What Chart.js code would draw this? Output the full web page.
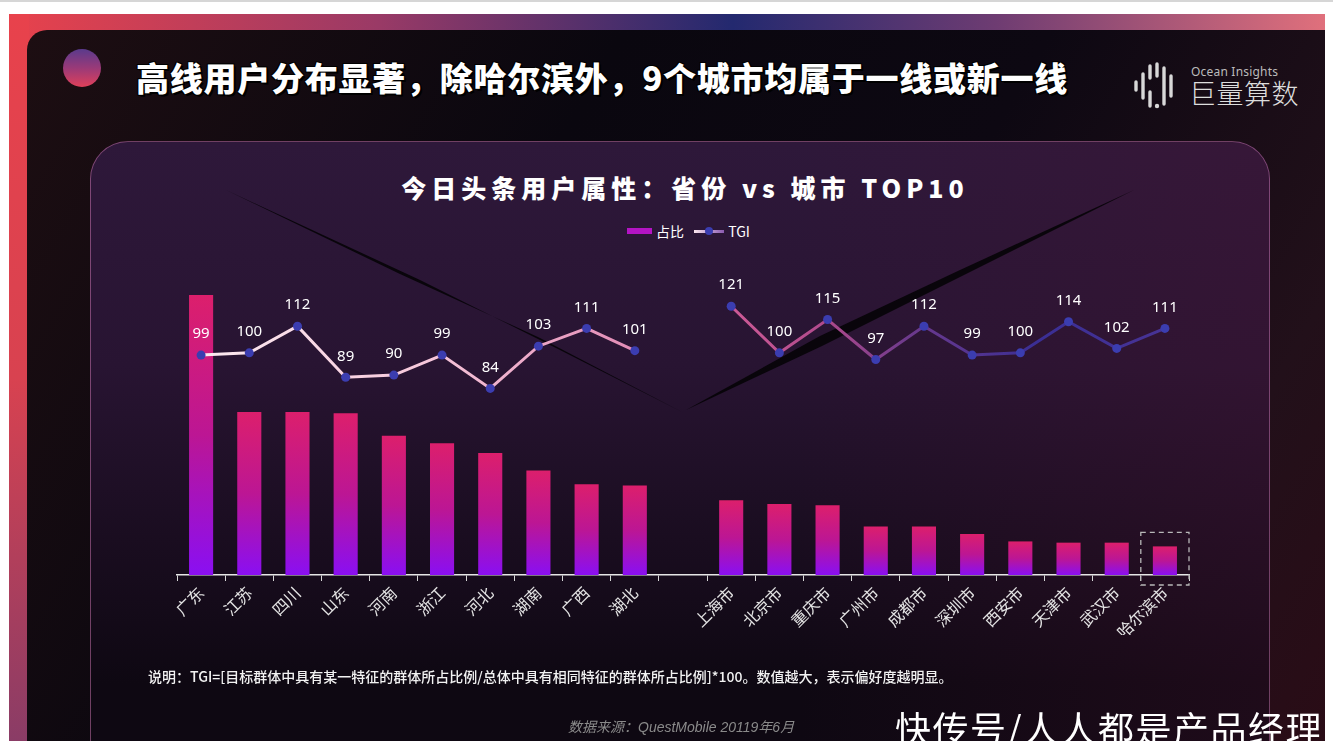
<!DOCTYPE html>
<html>
<head>
<meta charset="utf-8">
<script src="https://cdn.jsdelivr.net/npm/chart.js@4.4.1/dist/chart.umd.min.js"></script>
<style>
  html, body { margin: 0; padding: 0; background: #fff; width: 1333px; height: 755px; overflow: hidden; }
  .abs { position: absolute; }
  #frame { left: 9px; top: 14px; width: 1316px; height: 727px;
    background: linear-gradient(to right, #e8424c 0%, #9a3a66 28%, #23296f 55%, #6e3c72 75%, #e0707c 100%); }
  #frameLeft { left: 9px; top: 14px; width: 20px; height: 727px;
    background: linear-gradient(to bottom, #e8424c 0%, #d84250 50%, #8a3c66 100%); }
  #dark { left: 27px; top: 30px; width: 1298px; height: 711px; border-radius: 20px 0 0 0;
    background: linear-gradient(120deg, #1d0e12 0%, #0a070f 35%, #0d0812 60%, #22101a 85%, #2a0c16 100%); }
  #panel { left: 90px; top: 141px; width: 1180px; height: 640px; border-radius: 38px 38px 0 0;
    border: 1px solid rgba(210, 120, 180, 0.5); box-sizing: border-box;
    background: linear-gradient(to bottom, rgba(46,24,58,1) 0%, rgba(40,20,50,1) 35%, rgba(26,13,32,1) 62%, rgba(14,8,18,1) 85%); }
  #panelTint { left: 91px; top: 142px; width: 1178px; height: 600px; border-radius: 37px 37px 0 0;
    background: linear-gradient(to right, rgba(0,0,0,0) 0%, rgba(0,0,0,0) 60%, rgba(80,20,50,0.25) 100%); }
  #dot { left: 63px; top: 49px; width: 38px; height: 38px; border-radius: 50%;
    background: linear-gradient(to bottom, #5a3a8c 0%, #9a3a78 50%, #e0405a 100%); }
  #title { left: 136px; top: 54px; color: #fff; font-family: "Noto Sans CJK SC"; font-weight: 900;
    font-size: 33px; line-height: 46px; letter-spacing: 0.75px; white-space: nowrap;
    text-shadow: 2px 2px 0 #000, -1px -1px 0 #000, 1px -1px 0 #000, -1px 1px 0 #000; }
  #logoIcon { left: 1133px; top: 62px; width: 46px; height: 48px; }
  #logoEn { left: 1191px; top: 63px; color: #bbb; font-family: "Noto Sans"; font-size: 12px; letter-spacing: 0.2px; }
  #logoCn { left: 1189px; top: 76px; color: #ddd; font-family: "Noto Sans CJK SC"; font-weight: 300; font-size: 27px; letter-spacing: 0.5px; line-height: 34px; }
  #chartTitle { left: 300px; width: 770px; top: 170px; text-align: center; color: #fff;
    font-family: "Noto Sans CJK SC"; font-weight: 900; font-size: 25px; letter-spacing: 5px; line-height: 34px; white-space: nowrap; }
  #legend { left: 627px; top: 220px; color: #fff; font-family: "Noto Sans CJK SC"; font-size: 14px; line-height: 18px; white-space: nowrap; }
  #legend span { display: inline-block; vertical-align: middle; }
  #footnote { left: 148px; top: 666px; color: #f2f2f2; font-family: "Noto Sans CJK SC"; font-weight: 500; font-size: 14px; line-height: 20px; white-space: nowrap; }
  #source { left: 568px; top: 717px; color: #8a8a8a; font-family: "Liberation Sans", "Noto Sans CJK SC"; font-style: italic; font-size: 14px; line-height: 20px; white-space: nowrap; }
  #mark { left: 895px; top: 704px; color: #fff; font-family: "Noto Sans CJK SC"; font-size: 36px; line-height: 46px; white-space: nowrap; letter-spacing: 1.5px; }
  #whiteBottom { left: 0; top: 741px; width: 1333px; height: 14px; background: #fff; }
  #whiteRight { left: 1325px; top: 0; width: 8px; height: 755px; background: #fff; }
  #topLine { left: 0; top: 0; width: 1333px; height: 2px; background: #d6d6d6; }
  #deco { left: 0; top: 0; }
  #chart { left: 0; top: 0; }
</style>
</head>
<body>
<div id="frame" class="abs"></div>
<div id="frameLeft" class="abs"></div>
<div id="dark" class="abs"></div>
<div id="panel" class="abs"></div>
<div id="panelTint" class="abs"></div>
<svg id="deco" class="abs" width="1333" height="755">
  <polygon points="226,190 420,280 560,350 682,412 540,338 400,274" fill="#050307" opacity="0.9"/>
  <polygon points="1134,190 960,270 820,336 686,410 822,346 950,282" fill="#050307" opacity="0.9"/>
</svg>
<div id="dot" class="abs"></div>
<div id="title" class="abs">高线用户分布显著，除哈尔滨外，9个城市均属于一线或新一线</div>
<svg id="logoIcon" class="abs" viewBox="0 0 46 48">
  <g stroke="#d8d8d8" stroke-linecap="round" stroke-width="3.4" fill="none">
    <line x1="3" y1="20" x2="3" y2="28"/>
    <line x1="10" y1="12" x2="10" y2="36"/>
    <line x1="17" y1="4" x2="17" y2="16"/>
    <line x1="17" y1="30" x2="17" y2="44"/>
    <line x1="24" y1="2" x2="24" y2="14"/>
    <line x1="31" y1="6" x2="31" y2="42"/>
    <line x1="38" y1="14" x2="38" y2="34"/>
  </g>
  <circle cx="24" cy="44" r="2.2" fill="#d8d8d8"/>
</svg>
<div id="logoEn" class="abs">Ocean Insights</div>
<div id="logoCn" class="abs">巨量算数</div>
<div id="chartTitle" class="abs">今日头条用户属性：省份 vs 城市 TOP10</div>
<div id="legend" class="abs">
  <span style="width:25px;height:6px;background:#b414c4;"></span><span style="margin-left:4px;">占比</span>
  <span style="margin-left:7px;width:30px;height:12px;position:relative;">
    <span style="position:absolute;left:0;top:5px;width:30px;height:3px;background:linear-gradient(to right,#fbe6ee,#8a5ab0);"></span>
    <span style="position:absolute;left:11px;top:2px;width:8px;height:8px;border-radius:50%;background:#3b3db0;"></span>
  </span><span style="margin-left:4px;">TGI</span>
</div>
<canvas id="chart" class="abs" width="1333" height="755"></canvas>
<div id="footnote" class="abs">说明：TGI=[目标群体中具有某一特征的群体所占比例/总体中具有相同特征的群体所占比例]*100。数值越大，表示偏好度越明显。</div>
<div id="source" class="abs">数据来源：QuestMobile 20119年6月</div>
<div id="mark" class="abs">快传号/人人都是产品经理</div>
<div id="whiteBottom" class="abs"></div>
<div id="whiteRight" class="abs"></div>
<div id="topLine" class="abs"></div>

<script>
// categories
const provinces = ["广东", "江苏", "四川", "山东", "河南", "浙江", "河北", "湖南", "广西", "湖北"];
const cities = ["上海市", "北京市", "重庆市", "广州市", "成都市", "深圳市", "西安市", "天津市", "武汉市", "哈尔滨市"];
// 占比 (%)
const provinceShare = [11.25, 6.55, 6.55, 6.5, 5.6, 5.3, 4.9, 4.2, 3.65, 3.6];
const cityShare = [3.0, 2.85, 2.8, 1.95, 1.95, 1.65, 1.35, 1.3, 1.3, 1.15];
// TGI
const provinceTGI = [99, 100, 112, 89, 90, 99, 84, 103, 111, 101];
const cityTGI = [121, 100, 115, 97, 112, 99, 100, 114, 102, 111];

const labels = [...provinces, "", ...cities];
const shareData = [...provinceShare, null, ...cityShare];
const tgiData = [...provinceTGI, null, ...cityTGI];

function barFill(ctx) {
  const chart = ctx.chart;
  if (!chart.chartArea || ctx.raw == null) return "#b0148c";
  const y = chart.scales.yShare;
  const top = y.getPixelForValue(ctx.raw);
  const bottom = y.getPixelForValue(0);
  const g = chart.ctx.createLinearGradient(0, top, 0, bottom);
  g.addColorStop(0, "#dc1f6c");
  g.addColorStop(0.5, "#bc1694");
  g.addColorStop(1, "#8a0ff2");
  return g;
}

function lineStroke(ctx) {
  const chart = ctx.chart;
  const a = chart.chartArea;
  if (!a) return "#f0c0d8";
  const g = chart.ctx.createLinearGradient(a.left, 0, a.right, 0);
  g.addColorStop(0, "#fdeef3");
  g.addColorStop(0.25, "#f6c6da");
  g.addColorStop(0.45, "#e28cb6");
  g.addColorStop(0.55, "#cc5a96");
  g.addColorStop(0.64, "#b04a8c");
  g.addColorStop(0.72, "#6e3a8c");
  g.addColorStop(0.85, "#3a2e94");
  g.addColorStop(1, "#4a3496");
  return g;
}

// numbers above TGI points
const tgiLabels = {
  id: "tgiLabels",
  afterDatasetsDraw(chart) {
    const meta = chart.getDatasetMeta(1);
    const c = chart.ctx;
    c.save();
    c.fillStyle = "#ffffff";
    c.font = "15px 'Noto Sans'";
    c.textAlign = "center";
    c.textBaseline = "middle";
    meta.data.forEach((pt, i) => {
      const v = tgiData[i];
      if (v == null) return;
      c.fillText(String(v), pt.x, pt.y - 21);
    });
    c.restore();
  }
};

// dashed box around the last city (哈尔滨市)
const highlightBox = {
  id: "highlightBox",
  afterDatasetsDraw(chart) {
    const x = chart.scales.x;
    const y = chart.scales.yShare;
    const i = labels.length - 1;
    const half = (x.getPixelForValue(1) - x.getPixelForValue(0)) / 2;
    const cx = x.getPixelForValue(i);
    const top = y.getPixelForValue(shareData[i]) - 14;
    const bottom = y.getPixelForValue(0) + 10;
    const c = chart.ctx;
    c.save();
    c.strokeStyle = "#b8b8b8";
    c.lineWidth = 1.3;
    c.setLineDash([5, 4]);
    c.strokeRect(cx - half, top, half * 2, bottom - top);
    c.restore();
  }
};

new Chart(document.getElementById("chart"), {
  type: "bar",
  data: {
    labels: labels,
    datasets: [{
      type: "bar",
      label: "占比",
      data: shareData,
      yAxisID: "yShare",
      backgroundColor: barFill,
      categoryPercentage: 1,
      barPercentage: 0.5,
      order: 2
    }, {
      type: "line",
      label: "TGI",
      data: tgiData,
      yAxisID: "yTgi",
      borderColor: lineStroke,
      borderWidth: 3,
      pointRadius: 4.5,
      pointBackgroundColor: "#3b3db0",
      pointBorderWidth: 0,
      spanGaps: false,
      tension: 0,
      order: 1
    }]
  },
  options: {
    responsive: false,
    animation: false,
    events: [],
    layout: { padding: { left: 177, right: 144, top: 264, bottom: 120 } },
    plugins: { legend: { display: false }, tooltip: { enabled: false } },
    scales: {
      x: {
        offset: true,
        grid: { display: true, offset: true, drawOnChartArea: false, drawTicks: true, tickLength: 6, color: "#d8d8d8" },
        border: { display: true, color: "#e6e6e6", width: 1.5 },
        ticks: {
          color: "#e4e4e4",
          font: { family: "'Noto Sans CJK SC'", size: 16 },
          minRotation: 45, maxRotation: 45,
          autoSkip: false, padding: 2
        },
        afterFit(scale) { scale.height = 60; }
      },
      yShare: { display: false, min: 0, max: 12.5 },
      yTgi: { display: false, min: 0, max: 140 }
    }
  },
  plugins: [tgiLabels, highlightBox]
});
</script>
</body>
</html>
